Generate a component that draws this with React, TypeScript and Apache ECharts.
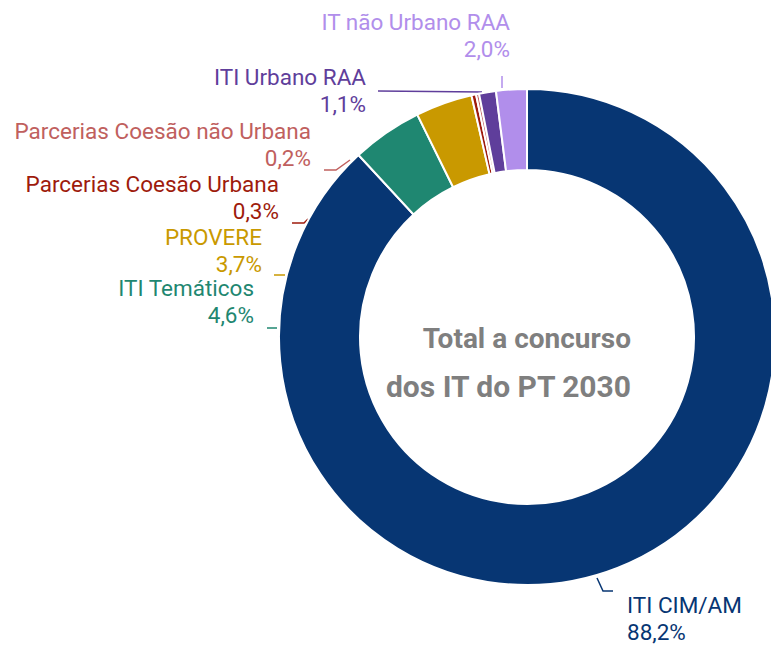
import React, { useEffect, useRef } from "react";
import * as echarts from "echarts";

const categories = [
  "ITI CIM/AM",
  "ITI Temáticos",
  "PROVERE",
  "Parcerias Coesão Urbana",
  "Parcerias Coesão não Urbana",
  "ITI Urbano RAA",
  "IT não Urbano RAA",
];
const values = [88.2, 4.6, 3.7, 0.3, 0.2, 1.1, 2.0];
const colors = ["#073673", "#1f8771", "#c99900", "#9e1b0c", "#c0605e", "#5f3e9b", "#b18eeb"];
const centerLines = ["Total a concurso", "dos IT do PT 2030"];

// label placement (layout only)
const labelPos = [
  { x: 627, y: 592, align: "left", line: [[597, 578], [603, 591], [613, 591]] },
  { x: 254, y: 275, align: "right", line: [[267, 328], [277, 328]] },
  { x: 262, y: 224, align: "right", line: [[274, 275], [285, 275]] },
  { x: 279, y: 171, align: "right", line: [[292, 223], [304, 223], [308, 219]] },
  { x: 311, y: 118, align: "right", line: [[324, 170], [336, 170], [350, 160]] },
  { x: 366, y: 64, align: "right", line: [[378, 91], [482, 92]] },
  { x: 510, y: 9, align: "right", line: [[502, 76], [502, 88]] },
];

export default function App() {
  const ref = useRef<HTMLDivElement>(null);
  useEffect(() => {
    const chart = echarts.init(ref.current!, null, { renderer: "svg" });
    chart.setOption({
      animation: false,
      backgroundColor: "#ffffff",
      graphic: [
        {
          type: "text",
          x: 631,
          y: 338,
          style: {
            text: centerLines[0],
            align: "right",
            verticalAlign: "middle",
            fill: "#7f7f7f",
            font: "bold 28px Roboto",
          },
        },
        {
          type: "text",
          x: 631,
          y: 386,
          style: {
            text: centerLines[1],
            align: "right",
            verticalAlign: "middle",
            fill: "#7f7f7f",
            font: "bold 30px Roboto",
          },
        },
      ],
      series: [
        {
          type: "pie",
          center: [527, 337],
          radius: [167, 248],
          startAngle: 90,
          clockwise: true,
          avoidLabelOverlap: false,
          itemStyle: { borderColor: "#ffffff", borderWidth: 2 },
          label: {
            show: true,
            position: "outside",
            fontFamily: "Roboto",
            fontSize: 22.5,
            lineHeight: 26.5,
            formatter: (p: any) =>
              p.name + "\n" + Number(p.value).toFixed(1).replace(".", ",") + "%",
          },
          labelLine: { show: true, lineStyle: { width: 1.5 } },
          labelLayout: (params: any) => {
            const l = labelPos[params.dataIndex];
            return {
              x: l.x,
              y: l.y,
              align: l.align,
              verticalAlign: "top",
              labelLinePoints: l.line,
            };
          },
          emphasis: { disabled: true },
          data: categories.map((c, i) => ({
            name: c,
            value: values[i],
            itemStyle: { color: colors[i] },
            label: { color: colors[i], align: labelPos[i].align },
            labelLine: { lineStyle: { color: colors[i] } },
          })),
        },
      ],
    });
    return () => chart.dispose();
  }, []);
  return (
    <div
      ref={ref}
      style={{ position: "fixed", left: 0, top: 0, width: 771, height: 647 }}
    />
  );
}
